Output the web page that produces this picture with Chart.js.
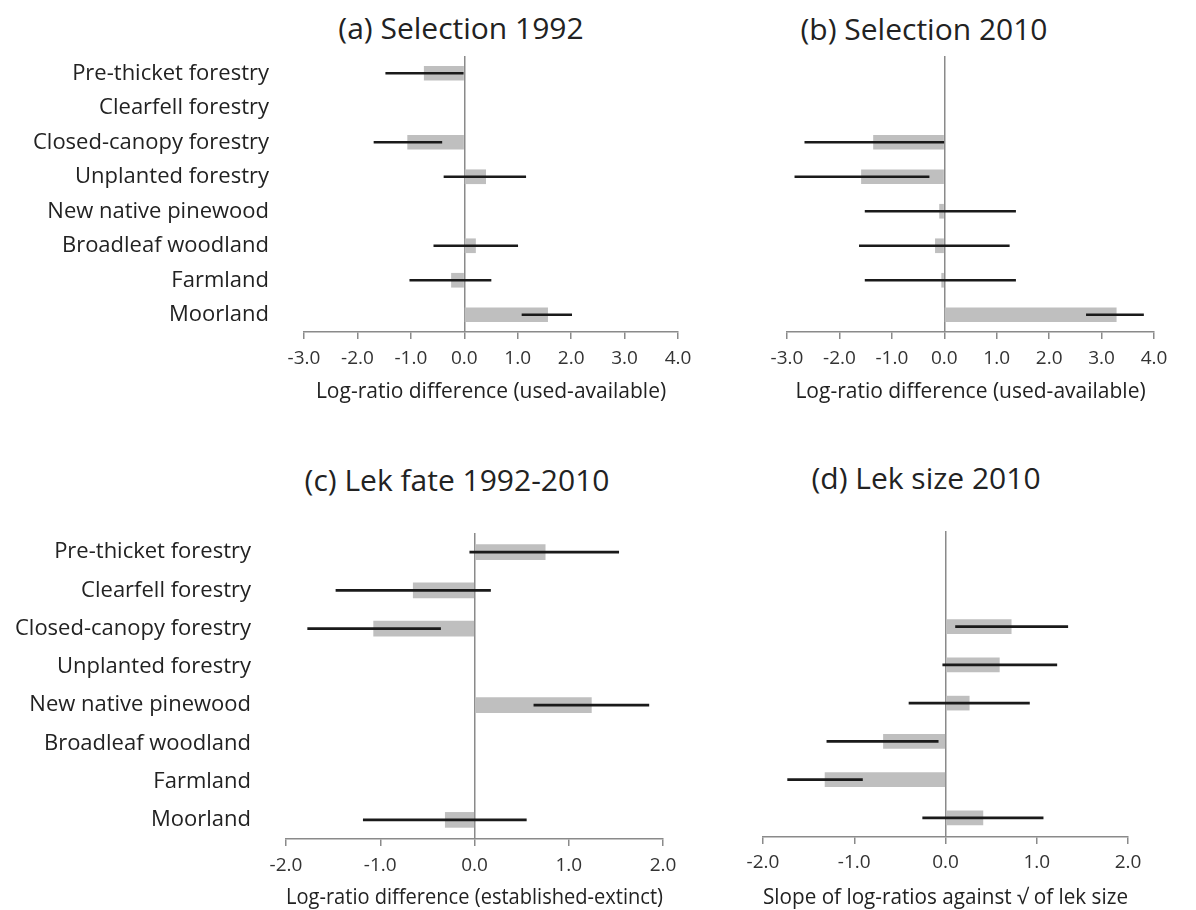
<!DOCTYPE html>
<html>
<head>
<meta charset="utf-8">
<script src="https://cdn.jsdelivr.net/npm/chart.js@4"></script>
<style>
body{margin:0;background:#fff;width:1196px;height:910px;position:relative;overflow:hidden;font-family:"Open Sans",sans-serif}
canvas{position:absolute}
.ttl{position:absolute;width:400px;text-align:center;font-size:30px;line-height:36px;color:#222;white-space:nowrap}
</style>
</head>
<body>

<div class="ttl" style="left:261px;top:10px">(a) Selection 1992</div>
<div class="ttl" style="left:724px;top:11px">(b) Selection 2010</div>
<div class="ttl" style="left:257px;top:462px">(c) Lek fate 1992-2010</div>
<div class="ttl" style="left:726px;top:460px">(d) Lek size 2010</div>

<canvas id="chartA" width="700" height="405" style="left:0;top:0"></canvas>
<canvas id="chartB" width="496" height="405" style="left:700px;top:0"></canvas>
<canvas id="chartC" width="700" height="471" style="left:0;top:440px"></canvas>
<canvas id="chartD" width="496" height="471" style="left:700px;top:440px"></canvas>

<script>
/* =========================
   DATA
========================= */

let habitats = ["Pre-thicket forestry","Clearfell forestry","Closed-canopy forestry","Unplanted forestry","New native pinewood","Broadleaf woodland","Farmland","Moorland"]

/* (a) selection 1992 */
let sel1992 = [-0.75, null, -1.06, 0.40, null, 0.21, -0.24, 1.56]
let sel1992Lo = [-1.47, null, -1.69, -0.38, null, -0.57, -1.02, 1.08]
let sel1992Hi = [-0.02, null, -0.42, 1.15, null, 1.00, 0.50, 2.01]

/* (b) selection 2010 */
let sel2010 = [null, null, -1.35, -1.58, -0.09, -0.17, -0.05, 3.28]
let sel2010Lo = [null, null, -2.66, -2.85, -1.51, -1.62, -1.51, 2.71]
let sel2010Hi = [null, null, -0.01, -0.29, 1.36, 1.24, 1.36, 3.80]

/* (c) lek fate 1992-2010 */
let lekFate = [0.75, -0.65, -1.07, null, 1.24, null, null, -0.31]
let lekFateLo = [-0.05, -1.47, -1.77, null, 0.63, null, null, -1.18]
let lekFateHi = [1.53, 0.17, -0.36, null, 1.85, null, null, 0.55]

/* (d) lek size 2010 */
let lekSize = [null, null, 0.72, 0.59, 0.26, -0.68, -1.32, 0.41]
let lekSizeLo = [null, null, 0.11, -0.03, -0.40, -1.30, -1.73, -0.25]
let lekSizeHi = [null, null, 1.34, 1.22, 0.92, -0.08, -0.91, 1.07]

/* axis ranges */
let selRange = [-3, 4]
let lekRange = [-2, 2]

let axisGrey = "#8a8a8a"

/* =========================
   PANEL BUILDER
========================= */

function makePanel(id, vals, lo, hi, p){

let errData = lo.map((l,i)=> l==null ? null : [l, hi[i]])

new Chart(document.getElementById(id),{
type:"bar",
data:{
labels:habitats,
datasets:[
{
data:errData,
backgroundColor:"#1a1a1a",
barThickness:2,
grouped:false,
order:0
},
{
data:vals,
backgroundColor:"#bfbfbf",
barThickness:p.barW,
grouped:false,
order:1
}
]
},
options:{
indexAxis:"y",
responsive:false,
animation:false,
events:[],
layout:{padding:{top:p.top,right:p.right,left:0,bottom:0}},
plugins:{
legend:{display:false},
tooltip:{enabled:false}
},
scales:{
y:{
type:"category",
afterFit:s=>{s.width = p.yw},
grid:{display:false},
border:{display:false},
ticks:{
display:p.showLabels,
autoSkip:false,
padding:27,
color:"#222",
font:{family:"Open Sans",size:22,lineHeight:1.2}
}
},
x:{
min:p.range[0],
max:p.range[1],
afterFit:s=>{s.height = p.xh},
border:{display:true,color:axisGrey,width:1.5},
grid:{
drawOnChartArea:true,
color:c=> c.tick && c.tick.value===0 ? axisGrey : "rgba(0,0,0,0)",
lineWidth:1.5,
tickColor:axisGrey,
tickWidth:1.5,
tickLength:7
},
ticks:{
stepSize:1,
maxRotation:0,
padding:p.tickPad,
color:"#333",
font:{family:"Open Sans",size:19,lineHeight:1.2},
callback:v=>Number(v).toFixed(1)
},
title:{
display:true,
text:p.xTitle,
color:"#222",
padding:{top:0,bottom:0},
font:{family:"Open Sans",size:21,lineHeight:1.2}
}
}
}
}
})

}

/* =========================
   DRAW PANELS
========================= */

makePanel("chartA", sel1992, sel1992Lo, sel1992Hi, {
top:56, right:22, yw:304, xh:73, tickPad:8, barW:14,
range:selRange, showLabels:true,
xTitle:"Log-ratio difference (used-available)"
})

makePanel("chartB", sel2010, sel2010Lo, sel2010Hi, {
top:56, right:42, yw:87, xh:73, tickPad:8, barW:14,
range:selRange, showLabels:false,
xTitle:"Log-ratio difference (used-available)"
})

makePanel("chartC", lekFate, lekFateLo, lekFateHi, {
top:93, right:37, yw:286, xh:72, tickPad:8, barW:15,
range:lekRange, showLabels:true,
xTitle:"Log-ratio difference (established-extinct)"
})

makePanel("chartD", lekSize, lekSizeLo, lekSizeHi, {
top:91, right:68, yw:63, xh:74, tickPad:7, barW:14,
range:lekRange, showLabels:false,
xTitle:"Slope of log-ratios against √ of lek size"
})
</script>
</body>
</html>
